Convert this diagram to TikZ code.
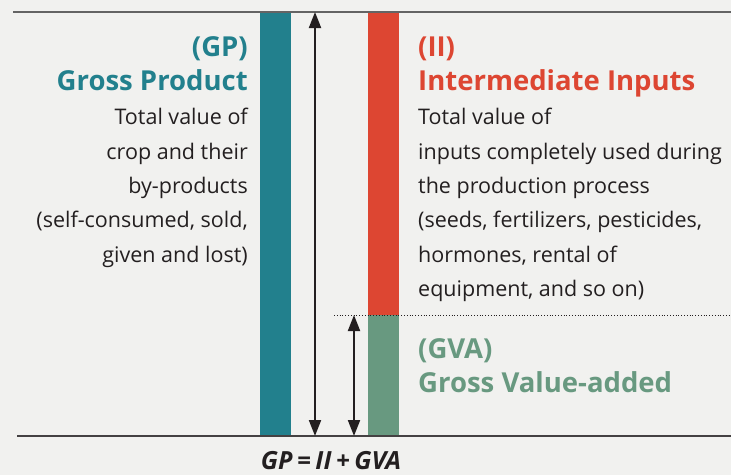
\documentclass[tikz,border=0pt]{standalone}
\usepackage{fontspec}
\setmainfont{Open Sans}
\usetikzlibrary{arrows.meta}
\definecolor{bgc}{RGB}{241,241,239}
\definecolor{gpc}{RGB}{34,128,141}
\definecolor{iic}{RGB}{221,70,50}
\definecolor{gvac}{RGB}{104,153,128}
\definecolor{inkc}{RGB}{35,31,32}
\definecolor{rulec}{RGB}{100,100,100}
\tikzset{
  bar/.style={inner sep=0pt, outer sep=0pt, anchor=north west, minimum width=31pt},
  head/.style={inner sep=0pt, font=\fontsize{27.5}{32}\selectfont\bfseries},
  body/.style={inner sep=0pt, text=inkc, font=\fontsize{21.5}{25}\selectfont},
  measure/.style={line width=2pt, draw=inkc, {Triangle[length=16pt,width=12pt]}-{Triangle[length=16pt,width=12pt]}},
}
\newcommand{\opgap}{\hspace{4.5pt}}
\begin{document}
\begin{tikzpicture}[x=1pt,y=-1pt]
\fill[bgc] (0,0) rectangle (731,475);
\useasboundingbox (0,0) rectangle (731,475);

% stacked bars
\node[bar, fill=gpc, minimum height=424pt] (gpbar) at (260,12) {};
\node[bar, fill=iic, minimum height=303pt] (iibar) at (368,12) {};
\node[bar, fill=gvac, minimum height=121pt] (gvabar) at (368,315) {};

% top and bottom rules
\coordinate (tl) at (13,12);
\coordinate (tr) at (731,12);
\coordinate (bl) at (17,436);
\coordinate (br) at (731,436);
\draw[rulec, line width=1.5pt] (tl) -- (tr);
\draw[inkc!85, line width=1.2pt] (bl) -- (br);

% split between II and GVA
\coordinate (dl) at (334,315);
\coordinate (dr) at (731,315);
\draw[inkc, line width=0.8pt, dotted] (dl) -- (dr);

% measuring arrows
\coordinate (gptop) at (315,12);
\coordinate (gpbot) at (315,436);
\coordinate (gvatop) at (354,315);
\coordinate (gvabot) at (354,436);
\draw[measure] (gptop) -- (gpbot);
\draw[measure] (gvatop) -- (gvabot);

% Gross Product
\node[head, text=gpc, anchor=base east] (gpabbr) at (248,56) {(GP)};
\node[head, text=gpc, anchor=base east] (gpname) at (248,90) {Gross Product};
\node[body, anchor=base east] (gp1) at (248,124) {Total value of};
\node[body, anchor=base east] (gp2) at (248,159) {crop and their};
\node[body, anchor=base east] (gp3) at (248,193) {by-products};
\node[body, anchor=base east] (gp4) at (248,227) {(self-consumed, sold,};
\node[body, anchor=base east] (gp5) at (248,262) {given and lost)};

% Intermediate Inputs
\node[head, text=iic, anchor=base west] (iiabbr) at (418,56) {(II)};
\node[head, text=iic, anchor=base west] (iiname) at (418,90) {Intermediate Inputs};
\node[body, anchor=base west] (ii1) at (418,124) {Total value of};
\node[body, anchor=base west] (ii2) at (418,159) {inputs completely used during};
\node[body, anchor=base west] (ii3) at (418,193) {the production process};
\node[body, anchor=base west] (ii4) at (418,227) {(seeds, fertilizers, pesticides,};
\node[body, anchor=base west] (ii5) at (418,262) {hormones, rental of};
\node[body, anchor=base west] (ii6) at (418,296) {equipment, and so on)};

% Gross Value-added
\node[head, text=gvac, anchor=base west] (gvaabbr) at (418,358) {(GVA)};
\node[head, text=gvac, anchor=base west] (gvaname) at (418,392) {Gross Value-added};

% identity
\node[inner sep=0pt, text=inkc, anchor=base, font=\fontsize{25}{28}\selectfont\bfseries\itshape] (identity) at (331,469) {GP\opgap=\opgap II\opgap+\opgap GVA};
\end{tikzpicture}
\end{document}
